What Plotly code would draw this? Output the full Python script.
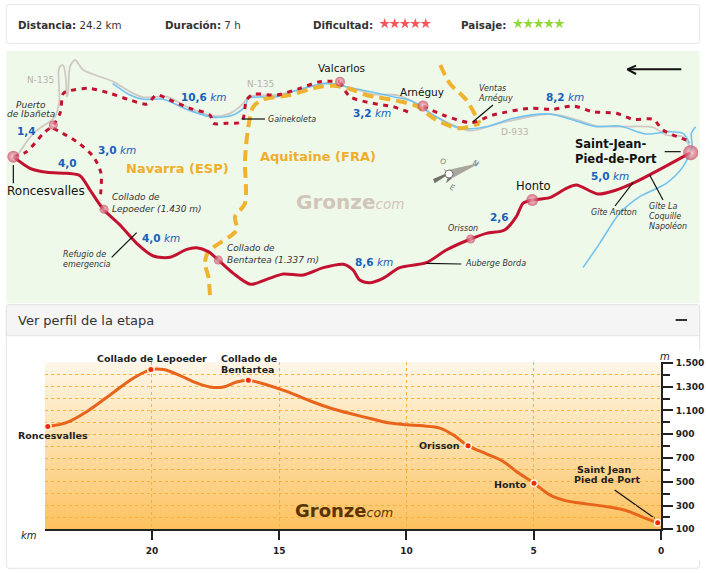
import plotly.graph_objects as go

# ---- map geometry (units: 1/3 px of the 706x573 image)
route_main_x = [40,90,140,200,240,270,310,360,410,460,510,560,590,625,655,700,752,800,850,910,970,1030,1059,1079,1109,1149,1199,1279,1339,1412,1459,1514,1549,1569,1597,1649,1699,1729,1794,1849,1909,2072]
route_main_y = [470,505,517,520,527,570,628,675,730,768,772,748,743,755,780,820,853,838,822,825,803,793,810,840,848,835,803,788,750,717,700,690,650,610,600,593,565,555,582,570,545,458]

alt_a_x = [40,80,130,160,180,190,205,265,330,390,440,470,510,570,630,640,680,725,740,760,830,900,960,1020]
alt_a_y = [470,455,400,375,340,280,273,265,280,300,312,285,300,325,345,370,370,365,300,283,285,265,245,245]
alt_b_x = [1020,1050,1119,1179,1239]
alt_b_y = [245,290,310,320,342]
alt_c_x = [1269,1329,1414,1479,1589,1659,1719,1779,1849,1899,1959,1989,2059]
alt_c_y = [318,345,368,345,325,328,318,335,340,358,358,390,420]
alt_d_x = [160,230,280,303,300]
alt_d_y = [385,425,470,520,600]

river_a_x = [338,390,430,490,560,640,700,735,745,830,900,980,1059,1179,1239,1299,1379,1459,1539,1649,1719,1789,1859,1939,2009,2049,2069]
river_a_y = [250,285,298,298,328,352,345,320,295,290,268,250,265,290,305,345,385,380,355,342,360,380,378,402,395,400,430]
river_b_x = [2087,2074,2076,2049,1999,1919,1859,1799,1749]
river_b_y = [380,400,440,500,550,590,640,730,803]

road_x = [50,100,165,178,176,182,190,198,200,204,210,225,250,340,390,430,500,560,640,690,730,745,830,900,980,1059,1119,1189,1249,1309,1409,1499,1649,1739,1789,1859,1959,1999,2049,2069]
road_y = [470,400,350,300,210,197,197,240,290,280,200,180,210,245,275,292,290,320,348,340,310,290,285,268,250,265,283,285,310,350,392,370,342,362,378,380,382,405,410,440]

border_a_x = [630,625,615,625,710,705,735,735,745,760,790,870,960,1010,1059,1099,1189,1249,1309,1379,1439]
border_a_y = [885,830,790,755,690,650,610,480,380,320,298,285,260,258,270,285,302,318,360,385,370]
border_b_x = [1321,1349,1399,1439]
border_b_y = [195,250,300,370]

node_x = [40,160,312,655,1020,1269,1412,1597,2072]
node_y = [470,375,628,780,245,318,717,600,458]
node_size = [12,9,9,9,10,11,9,12,15]

leader_x = [40,40,None,725,795,None,335,410,None,1419,1479,None,1994,2042,None,1949,1989,None,1899,1845,None,1279,1384]
leader_y = [495,550,None,357,357,None,772,698,None,365,315,None,455,455,None,525,600,None,548,618,None,790,792]

arrow_x = [2044,1886,None,1908,1882,1908]
arrow_y = [208,208,None,197,208,222]

compass_light_x = [1344,1441,1356,1344]
compass_light_y = [510,488,535,510]
compass_dark_x = [1299,1340,1330,1347,1338,1356,1339,1304,1299]
compass_dark_y = [537,520,505,522,550,535,527,550,537]

# ---- header stars
red_star_x = [1154,1184,1215,1246,1277]
green_star_x = [1554,1585,1616,1647,1678]
star_y = [71]

# ---- elevation profile
km = [24.09,23.33,22.55,21.63,20.72,20.04,19.54,18.89,18.24,17.72,17.19,16.67,16.21,15.5,14.71,13.8,12.88,12.1,11.3,10.65,10,9.35,8.69,8.17,7.58,6.86,6.2,5.68,4.99,4.37,3.72,2.93,2.15,1.36,0.71,0.13]
elev = [966,1000,1092,1233,1373,1444,1444,1393,1331,1298,1298,1340,1354,1317,1261,1182,1112,1068,1026,994,980,971,952,896,803,735,671,586,488,390,339,314,291,257,201,156]
stop_km = [24.09,20.04,16.21,7.58,4.99,0.13]
stop_m = [966,1444,1354,803,488,156]
x_ticks = [0,5,10,15,20]
y_major = [100,300,500,700,900,1100,1300,1500]
y_labels = ["100","300","500","700","900","1.100","1.300","1.500"]
y_minor = [200,400,600,800,1000,1200,1400]

F = "DejaVu Sans"
CR = "#C3122F"
fig = go.Figure()

def rect_path(x0, y0, x1, y1, r=9):
    return (f"M{x0+r},{y0} L{x1-r},{y0} Q{x1},{y0} {x1},{y0+r} L{x1},{y1-r} Q{x1},{y1} {x1-r},{y1} "
            f"L{x0+r},{y1} Q{x0},{y1} {x0},{y1-r} L{x0},{y0+r} Q{x0},{y0} {x0+r},{y0} Z")

shapes = [
    dict(type="path", path=rect_path(19,14,2099,130), fillcolor="white", line=dict(color="#E6E6E6", width=1)),
    dict(type="rect", x0=19, x1=2099, y0=153, y1=910, fillcolor="#EFF9EA", line=dict(width=0)),
    dict(type="path", path=rect_path(19,914,2099,1705), fillcolor="white", line=dict(color="#E4E4E4", width=1)),
    dict(type="path", path="M19,1007 L19,923 Q19,914 28,914 L2090,914 Q2099,914 2099,923 L2099,1007 Z", fillcolor="#F5F5F5", line=dict(color="#E4E4E4", width=1)),
    dict(type="rect", x0=2027, x1=2061, y0=957, y1=963, fillcolor="#333333", line=dict(width=0)),
    dict(type="rect", x0=2090, x1=2106, y0=1050, y1=1680, fillcolor="white", line=dict(width=0)),
]
for s in shapes:
    s.update(xref="x", yref="y", layer="below")

def line(x, y, color, width, dash="solid", shape="spline"):
    fig.add_trace(go.Scatter(x=x, y=y, mode="lines", hoverinfo="skip", showlegend=False,
                             line=dict(color=color, width=width, dash=dash, shape=shape, smoothing=0.8),
                             connectgaps=False, xaxis="x", yaxis="y"))

# gradient panel under the profile grid
fig.add_trace(go.Scatter(x=[135,1983,1983,135,135], y=[1087,1087,1588,1588,1087], mode="lines", fill="toself",
                         line=dict(width=0), hoverinfo="skip", showlegend=False,
                         fillgradient=dict(type="vertical", colorscale=[[0,"#FCC15E"],[0.5,"#FDDFA8"],[1,"#FEF6E7"]]),
                         xaxis="x", yaxis="y"))
line(road_x, road_y, "#CFC9C4", 1.8)
line(river_a_x, river_a_y, "#72C3F0", 1.6)
line(river_b_x, river_b_y, "#72C3F0", 1.6)
for bx, by in ((border_a_x, border_a_y), (border_b_x, border_b_y)):
    line(bx, by, "#F0B330", 4, "11px,6px")
for ax_, ay_ in ((alt_a_x, alt_a_y), (alt_b_x, alt_b_y), (alt_c_x, alt_c_y), (alt_d_x, alt_d_y)):
    line(ax_, ay_, CR, 3, "5px,5.5px")
line(route_main_x, route_main_y, CR, 3)
line(leader_x, leader_y, "#111111", 1.2, shape="linear")
line(arrow_x, arrow_y, "#111111", 2, shape="linear")

fig.add_trace(go.Scatter(x=compass_dark_x, y=compass_dark_y, mode="lines", fill="toself", fillcolor="#75736C",
                         line=dict(width=0), hoverinfo="skip", showlegend=False))
fig.add_trace(go.Scatter(x=compass_light_x, y=compass_light_y, mode="lines", fill="toself", fillcolor="#A9A69D",
                         line=dict(width=0), hoverinfo="skip", showlegend=False))
fig.add_trace(go.Scatter(x=[1347], y=[522], mode="markers", hoverinfo="skip", showlegend=False,
                         marker=dict(size=8, color="white", line=dict(color="#777777", width=1))))

fig.add_trace(go.Scatter(x=node_x, y=node_y, mode="markers", hoverinfo="skip", showlegend=False,
                         marker=dict(size=node_size, color="#C63F5C", line=dict(width=0),
                                     gradient=dict(type="radial", color="#F6C4CD"))))

fig.add_trace(go.Scatter(x=red_star_x, y=star_y*5, mode="markers", hoverinfo="skip", showlegend=False,
                         marker=dict(symbol="star", size=8, color="#F9555B", line=dict(width=0))))
fig.add_trace(go.Scatter(x=green_star_x, y=star_y*5, mode="markers", hoverinfo="skip", showlegend=False,
                         marker=dict(symbol="star", size=8, color="#92D83C", line=dict(width=0))))

# profile
fig.add_trace(go.Scatter(x=km, y=elev, mode="lines", xaxis="x2", yaxis="y2", hoverinfo="skip", showlegend=False,
                         line=dict(color="#E8641B", width=3, shape="spline", smoothing=1)))
fig.add_trace(go.Scatter(x=stop_km, y=stop_m, mode="markers", xaxis="x2", yaxis="y2", hoverinfo="skip", showlegend=False,
                         cliponaxis=False,
                         marker=dict(size=6.5, color="#F32B05", line=dict(color="#FFF3E0", width=1.5))))

ann = []
def t(x, y, text, size, color="#222222", anchor="left", rot=0):
    ann.append(dict(x=x, y=y, xref="x", yref="y", text=text, showarrow=False, xanchor=anchor, yanchor="middle",
                    align=anchor, textangle=rot, borderpad=0, borderwidth=0, font=dict(family=F, size=size, color=color)))

DK = "#333333"
t(53,74,"<b>Distancia:</b> 24.2 km",10.3,DK)
t(496,74,"<b>Duración:</b> 7 h",10.3,DK)
t(939,74,"<b>Dificultad:</b>",10.3,DK)
t(1382,74,"<b>Paisaje:</b>",10.3,DK)

G = "#B9B3AD"
t(80,241,"N-135",9,G); t(740,253,"N-135",9,G); t(1503,397,"D-933",9,G)
BL = "#1560BC"
for x,y,s in [(543,292,"<b>10,6</b> <i>km</i>"),(295,449,"<b>3,0</b> <i>km</i>"),(427,714,"<b>4,0</b> <i>km</i>"),
              (1639,290,"<b>8,2</b> <i>km</i>"),(1059,339,"<b>3,2</b> <i>km</i>"),(1066,785,"<b>8,6</b> <i>km</i>"),
              (1774,527,"<b>5,0</b> <i>km</i>"),(51,392,"<b>1,4</b>"),(175,489,"<b>4,0</b>"),(1471,652,"<b>2,6</b>")]:
    t(x,y,s,10.5,BL)
OR = "#F0AE2B"
t(379,505,"<b>Navarra (ESP)</b>",13,OR); t(779,469,"<b>Aquitaine (FRA)</b>",13,OR)
for x,y,s,sz,a in [(93,314,"Puerto",9,"center"),(93,341,"de Ibañeta",9,"center"),(336,591,"Collado de",9,"left"),
                 (336,626,"Lepoeder (1.430 m)",9,"left"),(681,745,"Collado de",9,"left"),(681,780,"Bentartea (1.337 m)",9,"left"),
                 (803,357,"Gainekoleta",8,"left"),(189,764,"Refugio de",8,"left"),(189,793,"emergencia",8,"left"),
                 (1476,264,"Ventas",8,"center"),(1485,293,"Arnéguy",8,"center"),(1343,685,"Orisson",8,"left"),
                 (1395,790,"Auberge Borda",8,"left"),(1772,638,"Gîte Antton",8,"left"),(1946,618,"Gîte La",8,"left"),
                 (1946,648,"Coquille",8,"left"),(1946,678,"Napoléon",8,"left")]:
    t(x,y,f"<i>{s}</i>",sz,DK,a)
BK = "#111111"
t(22,573,"Roncesvalles",12,BK); t(953,205,"Valcarlos",10.5,BK); t(1201,277,"Arnéguy",10.5,BK); t(1548,558,"Honto",11.5,BK)
t(1726,433,"<b>Saint-Jean-</b>",11.5,BK); t(1726,477,"<b>Pied-de-Port</b>",11.5,BK)
C = "#D1C5B8"
t(888,607,'<b>Gronze</b><span style="font-size:13.5px"><i>com</i></span>',20,C)
for x,y,s,r in [(1329,485,"O",30),(1429,490,"N",30),(1357,562,"E",30)]:
    t(x,y,s,7.5,"#777777","center",r)

P = "#1E1E1E"
t(53,960,"Ver perfil de la etapa",13,"#333333")
for x,y,s,a in [(55,1307,"Roncesvalles","left"),(292,1075,"Collado de Lepoeder","left"),(662,1074,"Collado de","left"),
                (662,1108,"Bentartea","left"),(1257,1337,"Orisson","left"),(1481,1452,"Honto","left"),
                (1814,1409,"Saint Jean","center"),(1821,1438,"Pied de Port","center")]:
    t(x,y,f"<b>{s}</b>",9.5,P,a)
t(62,1605,"<i>km</i>",10,P)
t(1994,1068,"<i>m</i>",10,P,"center")
t(886,1532,'<b>Gronze</b><span style="font-size:12.5px"><i>com</i></span>',18,"#5E3200")

line([1844,1964],[1470,1555],"#111111",1.2,shape="linear")

X0, X1 = 45/706, 661/706
Y0, Y1 = 1-529.3/573, 1-362/573
fig.update_layout(
    width=706, height=573, margin=dict(l=0,r=0,t=0,b=0,autoexpand=False),
    paper_bgcolor="white", plot_bgcolor="rgba(0,0,0,0)",
    showlegend=False, shapes=shapes, annotations=ann,
    xaxis=dict(domain=[0,1], range=[0,2118], visible=False, fixedrange=True),
    yaxis=dict(domain=[0,1], range=[1719,0], visible=False, fixedrange=True),
    xaxis2=dict(domain=[X0,X1], range=[24.2,0], anchor="y2", tickmode="array", tickvals=x_ticks,
                ticks="outside", ticklen=9, tickwidth=2, tickcolor="#222222", showline=True, linecolor="#222222", linewidth=2,
                showgrid=True, gridcolor="#FBAF3C", griddash="dot", gridwidth=1, zeroline=False, ticklabelstandoff=3,
                tickfont=dict(family=F, size=9, color=P, weight="bold"), fixedrange=True),
    yaxis2=dict(domain=[Y0,Y1], range=[100,1508], anchor="x2", side="right", tickmode="array", tickvals=y_major, ticktext=y_labels,
                ticks="outside", ticklen=10, tickwidth=2, tickcolor="#222222", showline=True, linecolor="#222222", linewidth=2,
                showgrid=True, gridcolor="#FBAF3C", griddash="dot", gridwidth=1, zeroline=False, ticklabelstandoff=1,
                minor=dict(tickvals=y_minor, ticks="outside", ticklen=7, tickwidth=2, tickcolor="#222222",
                           showgrid=True, gridcolor="#FBAF3C", griddash="dot", gridwidth=1),
                tickfont=dict(family=F, size=9, color=P, weight="bold"), fixedrange=True),
)
fig.write_html("out.html", config=dict(displayModeBar=False),
               post_script="document.body.style.margin='0';")
